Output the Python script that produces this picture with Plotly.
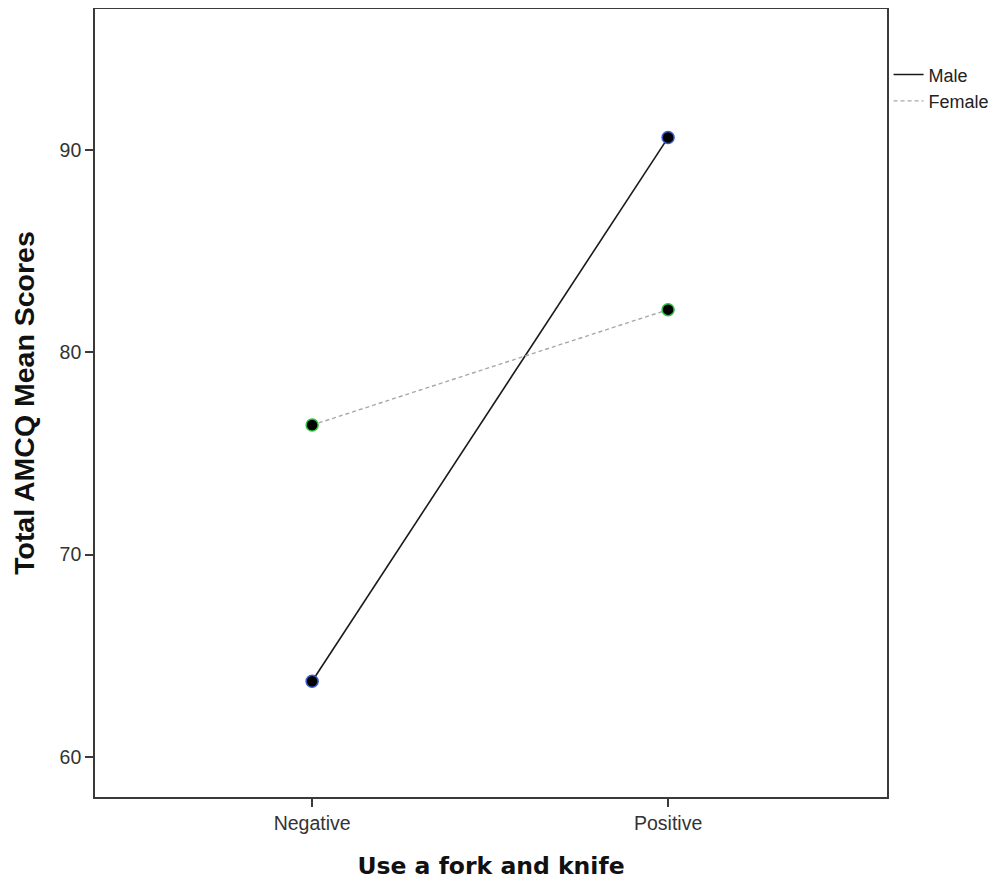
import plotly.graph_objects as go

categories = ["Negative", "Positive"]
male = [63.75, 90.6]
female = [76.4, 82.1]
y_ticks = [60, 70, 80, 90]

fig = go.Figure()
fig.add_trace(go.Scatter(x=categories, y=male, mode="lines", name="Male",
                         line=dict(color="#1a1a1a", width=1.6)))
fig.add_trace(go.Scatter(x=categories, y=female, mode="lines", name="Female",
                         line=dict(color="#a8a8a8", width=1.4, dash="4px,3px")))
fig.add_trace(go.Scatter(x=categories, y=male, mode="markers", showlegend=False,
                         marker=dict(color="black", size=12,
                                     line=dict(color="#3a5bd0", width=1.5))))
fig.add_trace(go.Scatter(x=categories, y=female, mode="markers", showlegend=False,
                         marker=dict(color="black", size=12,
                                     line=dict(color="#2fc040", width=1.5))))

axis_common = dict(showline=True, linecolor="#3a3a3a", linewidth=1.6, mirror=True,
                   ticks="outside", ticklen=8, tickcolor="#3a3a3a", tickwidth=1.6,
                   showgrid=False, zeroline=False,
                   tickfont=dict(family="Liberation Sans, Arial", size=19.5, color="#333333"))

fig.update_xaxes(type="category", range=[-0.61, 1.615],
                 title=dict(text="<b>Use a fork and knife</b>",
                            font=dict(family="DejaVu Sans", size=23.5, color="#111111"),
                            standoff=32),
                 **axis_common)
fig.update_yaxes(range=[58.03, 96.95], tickvals=y_ticks,
                 title=dict(text="<b>Total AMCQ Mean Scores</b>",
                            font=dict(family="Liberation Sans, Arial", size=28.5, color="#111111"),
                            standoff=18),
                 **axis_common)

fig.update_layout(width=983, height=872,
                  margin=dict(l=87, r=104, t=1, b=83, autoexpand=False),
                  paper_bgcolor="white", plot_bgcolor="white",
                  legend=dict(x=1.002, xanchor="left", y=0.94, yanchor="top",
                              font=dict(family="Liberation Sans, Arial", size=18, color="#222222"),
                              bgcolor="rgba(0,0,0,0)", itemwidth=30, tracegroupgap=0))

fig.write_html("out.html")
